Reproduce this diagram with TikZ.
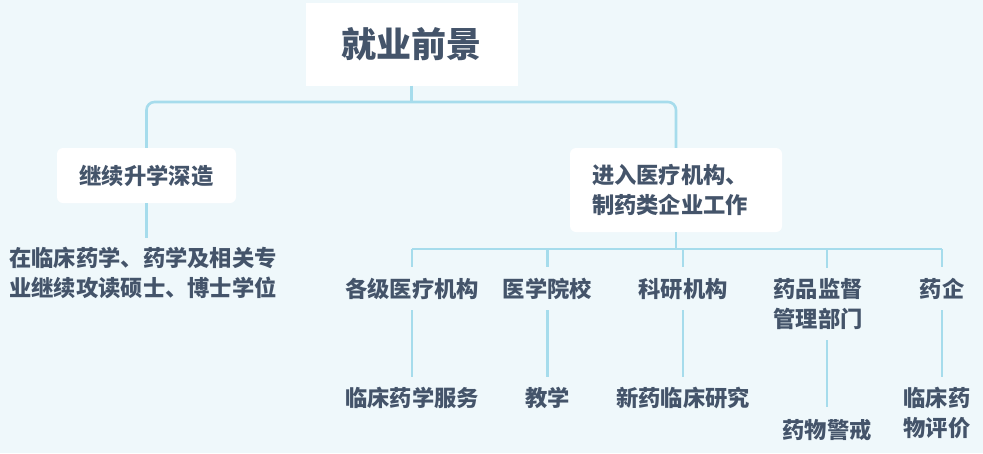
\documentclass[tikz,border=0pt]{standalone}
\usepackage{fontspec}
\setmainfont{Noto Sans CJK SC}
\definecolor{bg}{HTML}{EFF8FB}
\definecolor{ln}{HTML}{A6DCEC}
\definecolor{tx}{HTML}{44546A}
\tikzset{
  lbl/.style={text=tx, font=\fontsize{22.3}{30}\selectfont\bfseries, inner sep=0pt, align=center},
  card/.style={fill=white, draw=none, rounded corners=6pt, text=tx, font=\fontsize{22.3}{30}\selectfont\bfseries},
  conn/.style={draw=ln, line width=2.6pt},
}
\begin{document}
\begin{tikzpicture}[x=1pt,y=-1pt]
\useasboundingbox (0,0) rectangle (983,453);
\fill[bg] (0,0) rectangle (983,453);
% boxes
\node[card, rounded corners=0pt, minimum width=212pt, minimum height=83pt, font=\fontsize{35}{40}\selectfont\bfseries] (title) at (411.5,44) {就业前景};
\node[card, minimum width=179pt, minimum height=55pt] (study) at (146.5,175.5) {继续升学深造};
\node[card, minimum width=212pt, minimum height=84pt, text width=168pt, align=left] (work) at (676,190) {进入医疗机构、\\制药类企业工作};
% left text
\node[lbl, align=left, anchor=west] (studytxt) at (9,273) {在临床药学、药学及相关专\\业继续攻读硕士、博士学位};
% level 2
\node[lbl] (a) at (412,289) {各级医疗机构};
\node[lbl] (b) at (547.5,289) {医学院校};
\node[lbl] (c) at (683,289) {科研机构};
\node[lbl] (d) at (818,304.5) {药品监督\\管理部门};
\node[lbl] (e) at (942,289) {药企};
% level 3
\node[lbl] (a3) at (412,398) {临床药学服务};
\node[lbl] (b3) at (547.5,398) {教学};
\node[lbl] (c3) at (683,398) {新药临床研究};
\node[lbl] (d3) at (827,430) {药物警戒};
\node[lbl] (e3) at (937,413) {临床药\\物评价};
% junctions
\coordinate (top) at (411.5,102);
\coordinate (bus) at (0,249);
\coordinate (lend) at (0,238);
\coordinate (dx) at (827,0);
\coordinate (ex) at (942,0);
% connectors
\draw[conn] (title.south) -- (top);
\draw[conn, rounded corners=8pt] (study.north) |- (top) -| (work.north);
\draw[conn] (study.south) -- (study.south |- lend);
\draw[conn] (work.south) -- (work.south |- bus);
\draw[conn] (a |- bus) -- (e |- bus);
\foreach \n in {a,b,c,e} \draw[conn, shorten >=22pt] (\n |- bus) -- (\n.center);
\draw[conn, shorten >=37pt] (dx |- bus) -- (dx |- d.center);
\foreach \n in {a,b,c} \draw[conn, shorten <=21pt, shorten >=21pt] (\n.center) -- (\n3.center);
\draw[conn, shorten <=35.5pt, shorten >=23pt] (dx |- d.center) -- (d3.center);
\draw[conn, shorten <=21pt, shorten >=36pt] (e.center) -- (ex |- e3.center);
\end{tikzpicture}
\end{document}
